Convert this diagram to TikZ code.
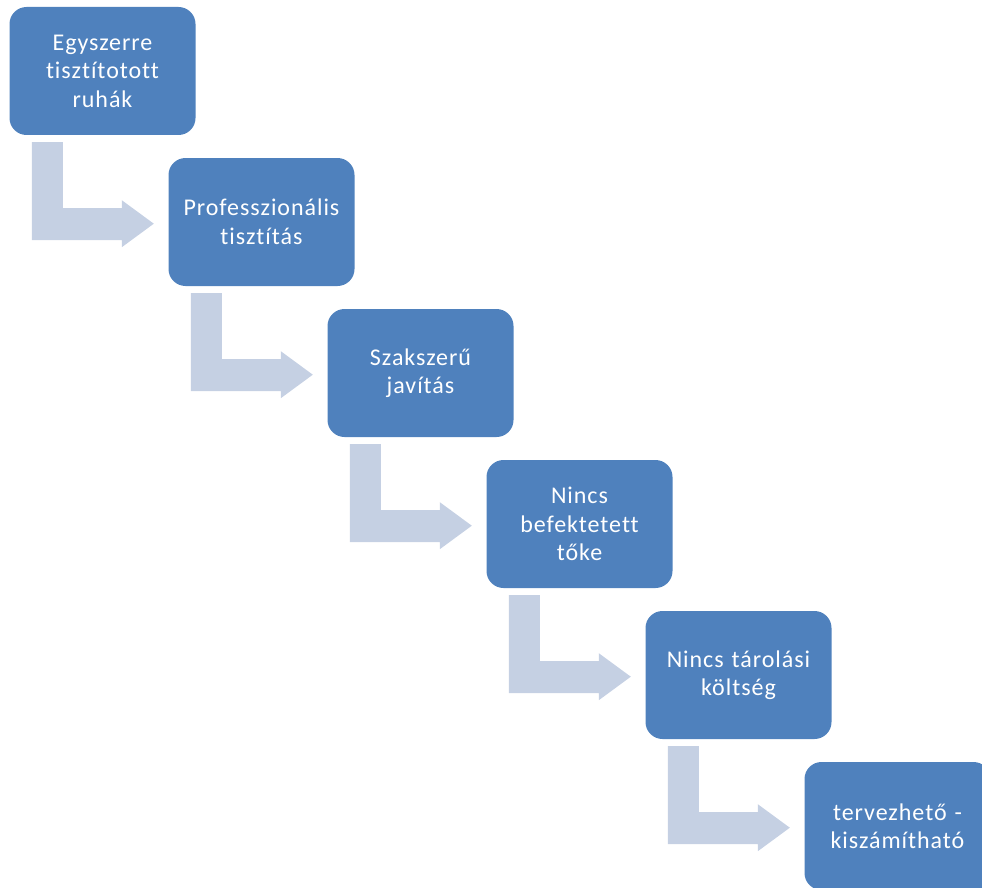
\documentclass[tikz,border=0pt]{standalone}
\usepackage{fontspec}
\setmainfont{Carlito}[Ligatures={NoCommon}, LetterSpace=4]
\usetikzlibrary{calc}
\definecolor{boxblue}{HTML}{4F81BD}
\definecolor{arrowgray}{HTML}{C5D0E3}
\tikzset{
  stagebox/.style={draw=none, fill=boxblue, rounded corners=17pt, minimum width=186pt, minimum height=128pt,
    text=white, align=center, text width=180pt, font=\fontsize{24}{28.5}\selectfont, inner sep=0pt},
  bentarrow/.style={fill=arrowgray, draw=none}
}
\begin{document}
\begin{tikzpicture}[x=1pt,y=-1pt]
\useasboundingbox (0,0) rectangle (982,888);
\clip (0,0) rectangle (982,888);
\node[stagebox] (b1) at (102.5,71) {Egyszerre\\tisztítotott\\ruhák};
\node[stagebox] (b2) at (261.5,222) {Professzionális\\tisztítás};
\node[stagebox] (b3) at (420.5,373) {Szakszerű\\javítás};
\node[stagebox] (b4) at (579.5,524) {Nincs\\befektetett\\tőke};
\node[stagebox] (b5) at (738.5,675) {Nincs tárolási\\költség};
\node[stagebox] (b6) at (897.5,826) {tervezhető -\\kiszámítható};
\foreach \i in {1,...,5} {
  \fill[bentarrow]
    ($(b\i.south west)+(22.5,7)$) --
    ($(b\i.south west)+(53.5,7)$) --
    ($(b\i.south west)+(53.5,73)$) --
    ($(b\i.south west)+(112.5,73)$) --
    ($(b\i.south west)+(112.5,65)$) --
    ($(b\i.south west)+(144.5,88.5)$) --
    ($(b\i.south west)+(112.5,112)$) --
    ($(b\i.south west)+(112.5,105)$) --
    ($(b\i.south west)+(22.5,105)$) -- cycle;
}
\end{tikzpicture}
\end{document}
